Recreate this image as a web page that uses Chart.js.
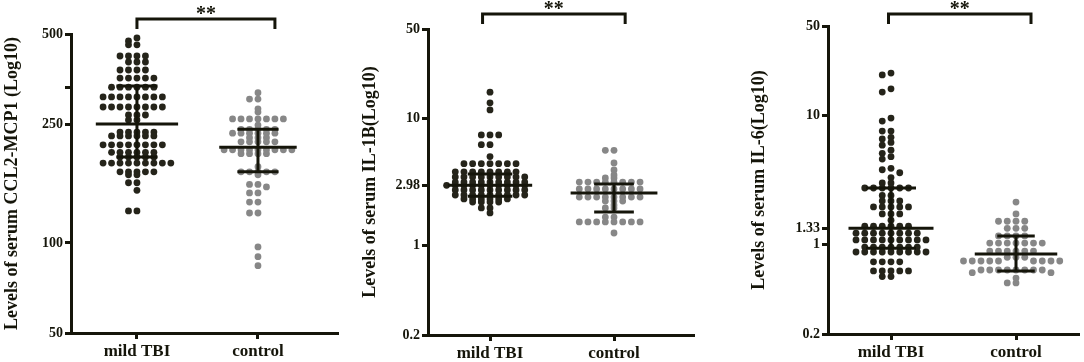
<!DOCTYPE html>
<html>
<head>
<meta charset="utf-8">
<script src="https://cdn.jsdelivr.net/npm/chart.js@4.4.0/dist/chart.umd.min.js"></script>
<style>
  body { margin: 0; background: #fff; }
  #wrap { position: relative; width: 1084px; height: 362px; }
  .panel { position: absolute; top: 0; height: 362px; }
</style>
</head>
<body>
<div id="wrap">
  <div class="panel" style="left:0;width:360px"><canvas id="c1"></canvas></div>
  <div class="panel" style="left:360px;width:360px"><canvas id="c2"></canvas></div>
  <div class="panel" style="left:720px;width:364px"><canvas id="c3"></canvas></div>
</div>
<script>
const groups = ["mild TBI", "control"];

// serum CCL2-MCP1, one value per dot
const ccl2Tbi = [485, 474, 460, 460, 422, 422, 422, 422, 403, 403, 403,
  379, 379, 379, 379, 356, 356, 356, 356, 356, 332, 332, 332, 332, 332, 332,
  308, 308, 308, 308, 308, 308, 308, 308, 285, 285, 285, 285, 285, 285, 285, 285,
  268, 268, 268, 258, 258, 235, 235, 235, 235, 235, 228, 228, 228, 228, 228, 228,
  213, 213, 213, 213, 213, 213, 213, 213, 201, 201, 201, 201, 201, 201,
  194, 194, 194, 194, 194, 185, 185, 185, 185, 185, 185, 185, 185, 185,
  173, 173, 173, 173, 173, 169, 169, 159, 159, 150, 128, 128];
const ccl2Ctrl = [318, 303, 303, 281, 274, 260, 260, 260, 260, 260, 260, 260, 248,
  240, 240, 240, 240, 240, 233, 233, 233, 233, 233, 233, 225, 225, 225,
  218, 218, 218, 218, 218, 205, 205, 205, 205, 205, 205, 205, 205, 205,
  199, 199, 199, 199, 180, 173, 173, 173, 173, 173, 169, 157, 157, 154,
  147, 147, 137, 137, 126, 126, 97, 90, 84];

// serum IL-1B
const il1bTbi = [16.0, 13.2, 11.6, 7.4, 7.4, 7.4, 6.2, 6.2, 5.0,
  4.4, 4.4, 4.4, 4.4, 4.4, 4.4, 4.4, 3.8, 3.8, 3.8, 3.8, 3.8, 3.8, 3.8, 3.8,
  3.46, 3.46, 3.46, 3.46, 3.46, 3.46, 3.46, 3.46, 3.46,
  3.16, 3.16, 3.16, 3.16, 3.16, 3.16, 3.16, 3.16, 3.16,
  2.98, 2.98, 2.98, 2.98, 2.98, 2.98, 2.98, 2.98, 2.98, 2.98,
  2.74, 2.74, 2.74, 2.74, 2.74, 2.74, 2.74, 2.74, 2.74,
  2.5, 2.5, 2.5, 2.5, 2.5, 2.5, 2.5, 2.5, 2.5,
  2.33, 2.33, 2.33, 2.33, 2.33, 2.33, 2.2, 2.2, 2.2, 2.2, 1.98, 1.98, 1.81];
const il1bCtrl = [5.6, 5.6, 4.46, 3.93, 3.59, 3.4, 3.4,
  3.16, 3.16, 3.16, 3.16, 3.16, 3.16, 3.16, 3.16,
  2.79, 2.79, 2.79, 2.79, 2.79, 2.79, 2.79, 2.79,
  2.41, 2.41, 2.41, 2.41, 2.41, 2.41, 2.41, 2.41,
  2.24, 2.24, 2.24, 2.09, 1.98, 1.98, 1.68, 1.68,
  1.54, 1.54, 1.54, 1.54, 1.54, 1.54, 1.54, 1.54, 1.26];

// serum IL-6
const il6Tbi = [21.5, 20.8, 16.2, 15.3, 9.6, 9.1, 7.6, 7.6, 6.8, 6.6, 6.2, 5.9,
  5.4, 5.1, 4.8, 4.6, 3.9, 3.8, 3.6, 3.3, 3.0, 3.0,
  2.74, 2.74, 2.74, 2.74, 2.74, 2.74, 2.4, 2.4, 2.17, 2.17, 2.17,
  1.95, 1.95, 1.95, 1.95, 1.95, 1.72, 1.72, 1.72, 1.54,
  1.38, 1.38, 1.38, 1.38, 1.38, 1.38, 1.22, 1.22, 1.22, 1.22, 1.22, 1.22, 1.22, 1.22,
  1.08, 1.08, 1.08, 1.08, 1.08, 1.08, 1.08, 1.08, 1.08,
  0.95, 0.95, 0.95, 0.95, 0.95, 0.95, 0.95,
  0.87, 0.87, 0.87, 0.87, 0.87, 0.87, 0.87, 0.87, 0.87,
  0.73, 0.73, 0.73, 0.73, 0.62, 0.62, 0.62, 0.62, 0.62, 0.56, 0.56];
const il6Ctrl = [2.13, 1.72, 1.51, 1.51, 1.51, 1.51, 1.33, 1.33, 1.33,
  1.16, 1.16, 1.16, 1.16, 1.02, 1.02, 1.02, 1.02, 1.02, 1.02, 1.02,
  0.885, 0.885, 0.885, 0.885, 0.885, 0.885, 0.79, 0.79, 0.79,
  0.74, 0.74, 0.74, 0.74, 0.74, 0.74, 0.74, 0.74, 0.74,
  0.63, 0.63, 0.63, 0.63, 0.63, 0.63, 0.63, 0.63, 0.6, 0.6, 0.545, 0.5, 0.5];

// mean and SD bar ends [mild TBI, control]
const ccl2Mean = [250, 209], ccl2Lo = [194, 173], ccl2Hi = [335, 240];
const il1bMean = [2.98, 2.59], il1bLo = [2.45, 1.84], il1bHi = [3.65, 3.05];
const il6Mean = [1.33, 0.84], il6Lo = [0.93, 0.62], il6Hi = [2.74, 1.16];

// y ticks
const ccl2Ticks = [50, 100, 250, 330, 500];
const ccl2Labels = ["50", "100", "250", "", "500"];
const il1bTicks = [0.2, 1, 2.98, 10, 50];
const il1bLabels = ["0.2", "1", "2.98", "10", "50"];
const il6Ticks = [0.2, 1, 1.33, 10, 50];
const il6Labels = ["0.2", "1", "1.33", "10", "50"];

const INK = "#15150a";
const FONT = "'Liberation Serif', 'Times New Roman', serif";

// spread dots sideways in slots so they do not sit on each other
function swarm(values, center, step, thr) {
  const placed = [];
  const sorted = values.slice().sort((a, b) => b - a);
  return sorted.map(v => {
    const lv = Math.log10(v);
    for (let i = 0; ; i++) {
      const k = i === 0 ? 0 : (i % 2 ? -Math.ceil(i / 2) : i / 2);
      const hit = placed.some(p => p.k === k && Math.abs(p.lv - lv) < thr);
      if (!hit) {
        placed.push({ k: k, lv: lv });
        return { x: center + k * step, y: v };
      }
    }
  });
}

function summaryLines(c, mean, lo, hi, half, cap) {
  return [
    { x: c - half, y: mean }, { x: c + half, y: mean }, { x: c, y: null },
    { x: c, y: lo }, { x: c, y: hi }, { x: c, y: null },
    { x: c - cap, y: hi }, { x: c + cap, y: hi }, { x: c, y: null },
    { x: c - cap, y: lo }, { x: c + cap, y: lo }
  ];
}

const bracketPlugin = {
  id: "bracket",
  afterDraw(chart, args, opts) {
    const { ctx, chartArea, scales } = chart;
    const x1 = scales.x.getPixelForValue(opts.from);
    const x2 = scales.x.getPixelForValue(opts.to);
    const y = chartArea.top - opts.lift;
    ctx.save();
    ctx.strokeStyle = INK;
    ctx.lineWidth = 3;
    ctx.beginPath();
    ctx.moveTo(x1, y + opts.drop);
    ctx.lineTo(x1, y);
    ctx.lineTo(x2, y);
    ctx.lineTo(x2, y + opts.drop);
    ctx.stroke();
    ctx.fillStyle = INK;
    ctx.font = "bold 20px " + FONT;
    ctx.textAlign = "center";
    ctx.textBaseline = "alphabetic";
    ctx.fillText("**", (x1 + x2) / 2, y + 1);
    ctx.restore();
  }
};

function makePanel(id, cfg) {
  const dots = [
    swarm(cfg.tbi, 1, 0.07, cfg.thr),
    swarm(cfg.ctrl, 2, 0.07, cfg.thr)
  ];
  const lines = [0, 1].map(i => summaryLines(i + 1, cfg.mean[i], cfg.lo[i], cfg.hi[i], cfg.half[i], cfg.cap[i]));

  new Chart(document.getElementById(id), {
    type: "scatter",
    data: {
      datasets: [
        { type: "line", data: lines[0], borderColor: INK, borderWidth: 3, pointRadius: 0, spanGaps: false, order: 0 },
        { type: "line", data: lines[1], borderColor: INK, borderWidth: 3, pointRadius: 0, spanGaps: false, order: 0 },
        { data: dots[0], backgroundColor: "#25241a", borderWidth: 0, pointRadius: 3.4, order: 1 },
        { data: dots[1], backgroundColor: "#878787", borderWidth: 0, pointRadius: 3.4, order: 1 }
      ]
    },
    options: {
      responsive: true,
      maintainAspectRatio: false,
      animation: false,
      layout: { padding: { top: cfg.top, right: cfg.right, left: 0, bottom: 0 } },
      plugins: {
        legend: { display: false },
        tooltip: { enabled: false },
        bracket: { from: cfg.bracket[0], to: cfg.bracket[1], lift: cfg.lift, drop: 10 }
      },
      scales: {
        x: {
          type: "linear",
          min: cfg.xMin,
          max: cfg.xMax,
          afterFit: s => { s.height = cfg.xHeight; },
          afterBuildTicks: s => { s.ticks = [{ value: 1 }, { value: 2 }]; },
          ticks: {
            autoSkip: false,
            padding: 2,
            color: INK,
            font: { family: FONT, size: 17, weight: "bold" },
            callback: v => groups[v - 1]
          },
          grid: { drawOnChartArea: false, drawTicks: true, tickLength: 6, color: INK, lineWidth: 3 },
          border: { display: true, color: INK, width: 3 }
        },
        y: {
          type: "logarithmic",
          min: cfg.yTicks[0],
          max: cfg.yTicks[cfg.yTicks.length - 1],
          afterFit: s => { s.width = cfg.yWidth; },
          afterBuildTicks: s => { s.ticks = cfg.yTicks.map(v => ({ value: v })); },
          ticks: {
            autoSkip: false,
            padding: 2,
            color: INK,
            font: { family: FONT, size: 14, weight: "bold" },
            callback: (v, i) => cfg.yLabels[i]
          },
          grid: { drawOnChartArea: false, drawTicks: true, tickLength: 6, color: INK, lineWidth: 3 },
          border: { display: true, color: INK, width: 3 },
          title: {
            display: true,
            text: cfg.title,
            color: INK,
            font: { family: FONT, size: 18, weight: "bold" },
            padding: { top: cfg.titlePad, bottom: 0 }
          }
        }
      }
    },
    plugins: [bracketPlugin]
  });
}

makePanel("c1", {
  tbi: ccl2Tbi, ctrl: ccl2Ctrl, mean: ccl2Mean, lo: ccl2Lo, hi: ccl2Hi,
  yTicks: ccl2Ticks, yLabels: ccl2Labels, title: "Levels of serum CCL2-MCP1 (Log10)",
  thr: 0.01, half: [0.34, 0.32], cap: [0.17, 0.17],
  top: 34, right: 23, yWidth: 71, xHeight: 29, xMin: 0.455, xMax: 2.653,
  titlePad: 2, bracket: [1.0, 2.14], lift: 15
});

makePanel("c2", {
  tbi: il1bTbi, ctrl: il1bCtrl, mean: il1bMean, lo: il1bLo, hi: il1bHi,
  yTicks: il1bTicks, yLabels: il1bLabels, title: "Levels of serum IL-1B(Log10)",
  thr: 0.023, half: [0.34, 0.35], cap: [0.18, 0.16],
  top: 29, right: 27, yWidth: 68, xHeight: 27, xMin: 0.5, xMax: 2.637,
  titlePad: 0, bracket: [0.94, 2.09], lift: 15
});

makePanel("c3", {
  tbi: il6Tbi, ctrl: il6Ctrl, mean: il6Mean, lo: il6Lo, hi: il6Hi,
  yTicks: il6Ticks, yLabels: il6Labels, title: "Levels of serum IL-6(Log10)",
  thr: 0.037, half: [0.34, 0.33], cap: [0.2, 0.15],
  top: 26, right: 6, yWidth: 108, xHeight: 28, xMin: 0.496, xMax: 2.496,
  titlePad: 29, bracket: [0.98, 2.12], lift: 12
});
</script>
</body>
</html>
